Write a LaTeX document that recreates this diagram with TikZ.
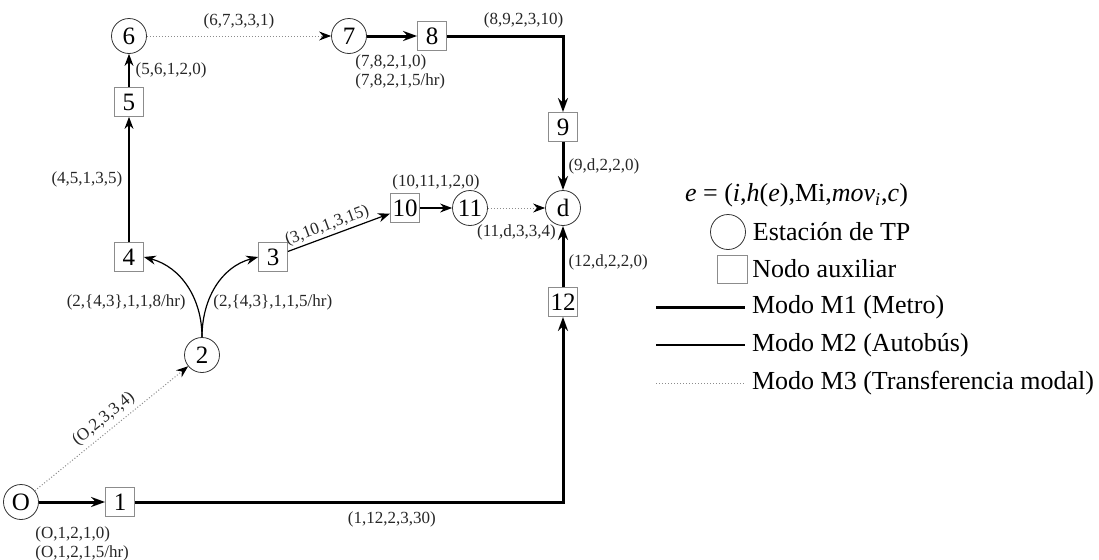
\documentclass[tikz,border=0pt]{standalone}
\usepackage{fontspec}
\setmainfont{Liberation Serif}
\usetikzlibrary{arrows.meta,positioning}

\begin{document}
\begin{tikzpicture}[x=0.5pt,y=0.5pt,
    est/.style={circle,draw=black!80,minimum size=17.5pt,inner sep=0pt,font=\fontsize{12.5}{14}\selectfont},
    aux/.style={rectangle,draw=black!45,minimum size=14.5pt,inner sep=1pt,font=\fontsize{12.5}{14}\selectfont},
    lbl/.style={inner sep=1pt,font=\fontsize{8.5}{9.5}\selectfont,text=black!85},
    metro/.style={line width=1.5pt,-{Stealth[length=7pt,width=5pt]}},
    bus/.style={line width=0.6pt,-{Stealth[length=6pt,width=4.5pt]}},
    trans/.style={densely dotted,draw=black!45,line width=0.5pt,-{Stealth[length=6pt,width=4.5pt,color=black]}},
    ley/.style={anchor=west,font=\fontsize{13}{15}\selectfont}]
    \useasboundingbox (0,0) rectangle (1099,559);

    % estaciones y nodos auxiliares
    \node[est] (o) at (21,57) {O};
    \node[aux] (n1) at (120,57) {1};
    \node[est] (n2) at (202,204) {2};
    \node[aux] (n3) at (273,302) {3};
    \node[aux] (n4) at (129,302) {4};
    \node[aux] (n5) at (129,457) {5};
    \node[est] (n6) at (129,523) {6};
    \node[est] (n7) at (349,523) {7};
    \node[aux] (n8) at (432,523) {8};
    \node[aux] (n9) at (563,432) {9};
    \node[aux] (n10) at (405,351) {10};
    \node[est] (n11) at (470,351) {11};
    \node[est] (d) at (563,351) {d};
    \node[aux] (n12) at (563,257) {12};

    % arcos
    \draw[metro] (o) -- (n1) node[lbl,pos=0,anchor=north west,align=left,xshift=-3.5pt,yshift=-10.5pt] {(O,1,2,1,0)\\(O,1,2,1,5/hr)};
    \draw[trans] (o) -- (n2) node[lbl,midway,sloped,above=1pt] {(O,2,3,3,4)};
    \draw[metro] (n1) -| (n12) node[lbl,pos=0.3,below=3pt] {(1,12,2,3,30)};
    \draw[metro] (n12) -- (d) node[lbl,pos=0.4,right=1pt] {(12,d,2,2,0)};
    \draw[bus] (n2.north) to[out=90,in=-15] (n4.east);
    \draw[bus] (n2.north) to[out=90,in=195] (n3.west);
    \node[lbl,anchor=east] (l24) at (188,257) {(2,\{4,3\},1,1,8/hr)};
    \node[lbl,anchor=west] (l23) at (211,257) {(2,\{4,3\},1,1,5/hr)};
    \draw[bus] (n3) -- (n10) node[lbl,pos=0.42,sloped,above=0pt] {(3,10,1,3,15)};
    \draw[bus] (n10) -- (n11) node[lbl,midway,above=7.5pt] {(10,11,1,2,0)};
    \draw[trans] (n11) -- (d) node[lbl,midway,below=7pt] {(11,d,3,3,4)};
    \draw[bus] (n4) -- (n5) node[lbl,midway,left=2pt] {(4,5,1,3,5)};
    \draw[bus] (n5) -- (n6) node[lbl,midway,right=2pt] {(5,6,1,2,0)};
    \draw[trans] (n6) -- (n7) node[lbl,midway,above=2pt] {(6,7,3,3,1)};
    \draw[metro] (n7) -- (n8) node[lbl,pos=0,anchor=north west,align=left,xshift=-7.5pt,yshift=-7.5pt] {(7,8,2,1,0)\\(7,8,2,1,5/hr)};
    \draw[metro] (n8) -| (n9) node[lbl,pos=0.33,above=2pt] {(8,9,2,3,10)};
    \draw[metro] (n9) -- (d) node[lbl,midway,right=1pt] {(9,d,2,2,0)};

    % leyenda
    \node[ley] (formula) at (678,364) {\textit{e} = (\textit{i},\textit{h}(\textit{e}),Mi,\textit{mov}\textsubscript{\textit{i}},\textit{c})};
    \node[est] (lest) at (728,327) {};
    \node[ley,right=0pt of lest] (test) {Estación de TP};
    \node[aux,minimum width=15pt,minimum height=14pt] (laux) at (732,290) {};
    \node[ley,right=-1pt of laux] (taux) {Nodo auxiliar};
    \coordinate (m1) at (656,252);
    \coordinate (m2) at (656,214);
    \coordinate (m3) at (656,176);
    \node[ley] (tm1) at (745,252) {Modo M1 (Metro)};
    \node[ley] (tm2) at (745,214) {Modo M2 (Autobús)};
    \node[ley] (tm3) at (745,176) {Modo M3 (Transferencia modal)};
    \draw[line width=1.5pt] (m1) -- (tm1.west);
    \draw[line width=0.6pt] (m2) -- (tm2.west);
    \draw[densely dotted,draw=black!45,line width=0.5pt] (m3) -- (tm3.west);
\end{tikzpicture}
\end{document}
